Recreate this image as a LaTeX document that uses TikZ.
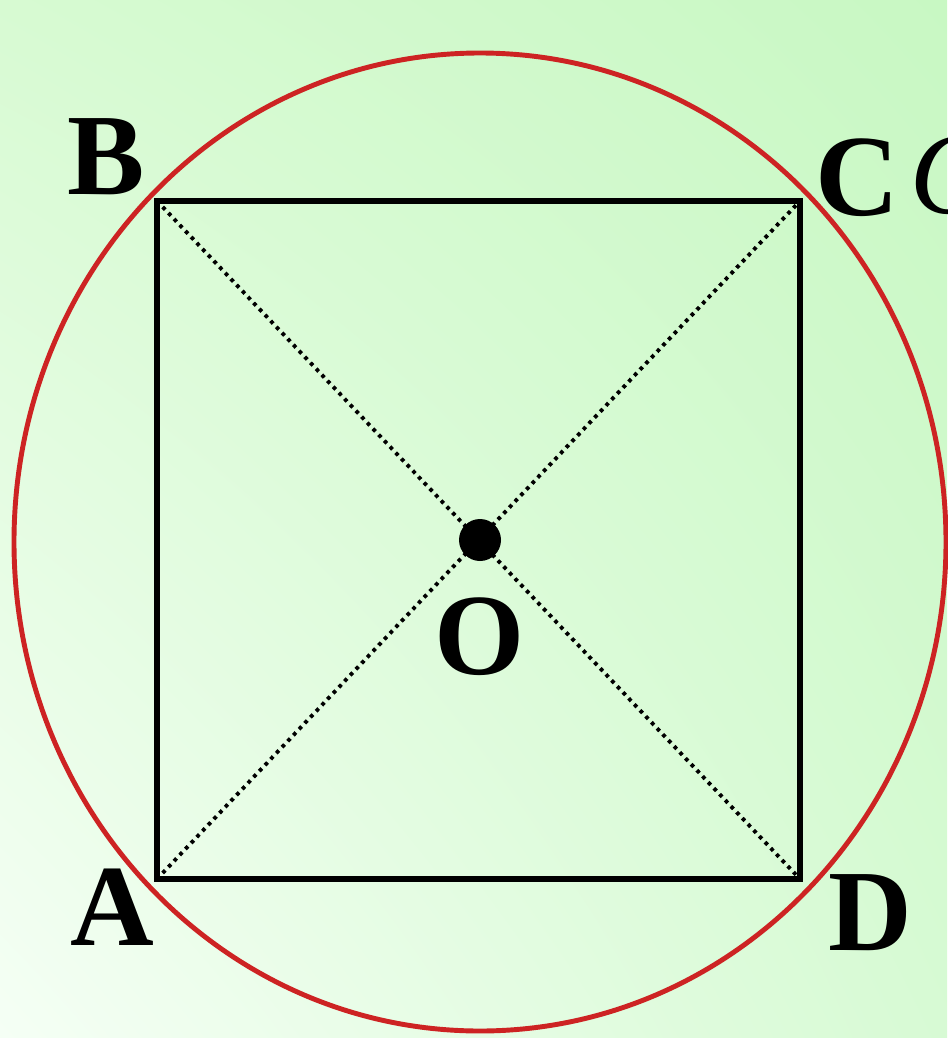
\documentclass[tikz,border=0pt]{standalone}
\usepackage{fontspec}
\setmainfont{Liberation Serif}[BoldFont={Liberation Serif Bold},ItalicFont={Liberation Serif Italic}]
\usetikzlibrary{shadings}
\definecolor{bgul}{RGB}{215,250,210}
\definecolor{bgur}{RGB}{200,248,195}
\definecolor{bgll}{RGB}{245,255,245}
\definecolor{bglr}{RGB}{215,250,212}
\definecolor{circred}{RGB}{205,35,35}
\begin{document}
\begin{tikzpicture}[x=0.02cm,y=-0.02cm,
  lbl/.style={font=\fontsize{66}{66}\selectfont\bfseries, anchor=base, inner sep=0pt},
  edge/.style={line width=3.3pt, line join=miter},
  diag/.style={line width=2.2pt, dash pattern=on 2.1pt off 2.6pt},
  circ/.style={draw=circred, line width=2.8pt}]
\useasboundingbox (0,0) rectangle (947,1038);
\shade[upper left=bgul, upper right=bgur, lower left=bgll, lower right=bglr]
  (0,0) rectangle (947,1038);
\coordinate (A) at (157,879);
\coordinate (B) at (157,201);
\coordinate (C) at (800,201);
\coordinate (D) at (800,879);
\coordinate (O) at (480,540);
\draw[circ] (480,542) ellipse [x radius=466, y radius=489];
\draw[diag] (A) -- (C);
\draw[diag] (B) -- (D);
\draw[edge] (A) -- (B) -- (C) -- (D) -- cycle;
\fill (O) circle [radius=21];
\node[lbl] (lB) at (106,194) {B};
\node[lbl] (lC) at (857,215) {C};
\node[lbl] (lA) at (112,945) {A};
\node[lbl] (lD) at (870,950) {D};
\node[lbl] (lO) at (480,674) {O};
\node[font=\fontsize{66}{66}\selectfont\itshape, anchor=base west, inner sep=0pt] (lc) at (910,213) {O};
\end{tikzpicture}
\end{document}
